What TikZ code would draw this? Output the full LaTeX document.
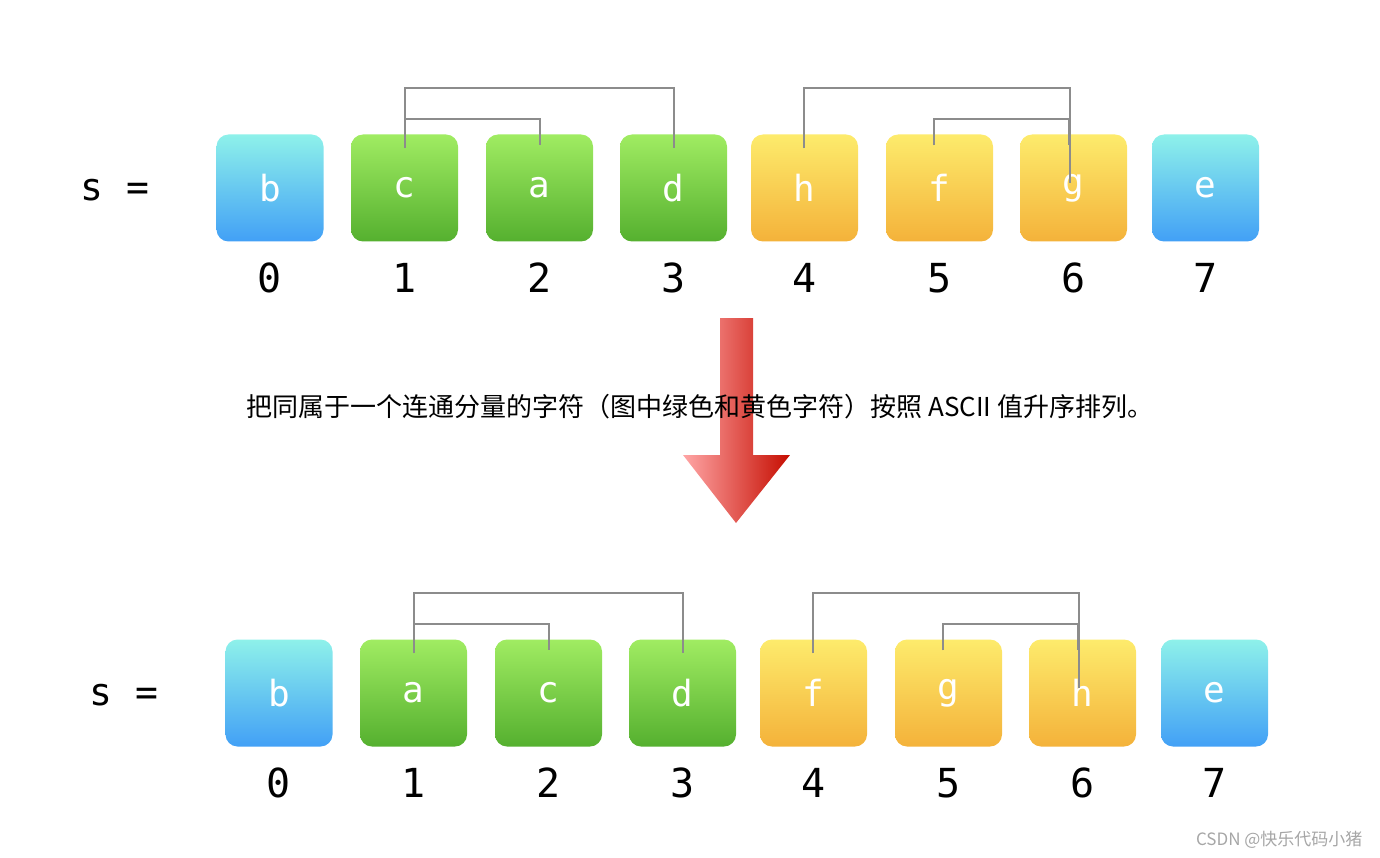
\documentclass[tikz,border=0pt]{standalone}
\usepackage{fontspec}
\usetikzlibrary{positioning}
\newfontfamily\cjk{Noto Sans CJK SC}
\newfontfamily\mono{DejaVu Sans Mono}
\definecolor{bluetop}{HTML}{8EF1EA}
\definecolor{bluebot}{HTML}{42A0F6}
\definecolor{greentop}{HTML}{A0EC62}
\definecolor{greenbot}{HTML}{55B02F}
\definecolor{yeltop}{HTML}{FDEB6C}
\definecolor{yelbot}{HTML}{F4B23A}
\definecolor{brk}{HTML}{8C8C8C}
\begin{document}
\begin{tikzpicture}[x=1pt, y=-1pt]
    \tikzset{
        letterbox/.style={rectangle, rounded corners=12pt, minimum width=107pt, minimum height=107pt, inner sep=0pt, text=white, font=\mono\fontsize{36}{36}\selectfont},
        bluebox/.style={letterbox, top color=bluetop, bottom color=bluebot},
        greenbox/.style={letterbox, top color=greentop, bottom color=greenbot},
        yelbox/.style={letterbox, top color=yeltop, bottom color=yelbot},
        index/.style={font=\mono\fontsize{40}{40}\selectfont},
        bracket/.style={draw=brk, line width=2pt}
    }
    \useasboundingbox (0,0) rectangle (1380,858);

    % Top row
    \node[font=\mono\fontsize{38}{38}\selectfont] (s1) at (115,190) {s =};
    \foreach \ch/\st [count=\i from 0] in {b/bluebox,c/greenbox,a/greenbox,d/greenbox,h/yelbox,f/yelbox,g/yelbox,e/bluebox} {
        \pgfmathsetmacro\xx{{270,404.5,539.5,673.5,804.5,939.5,1073.5,1205.5}[\i]}
        \node[\st] (t\i) at (\xx,188) {\ch};
        \node[index, below=18pt of t\i] (ti\i) {\i};
    }
    \draw[bracket] ([yshift=-14pt]t1.north) |- ++(0,-60) -| ([yshift=-14pt]t3.north);
    \draw[bracket] ([yshift=-11pt]t1.north) |- ++(0,-26) -| ([yshift=-11pt]t2.north);
    \draw[bracket] ([xshift=-1pt,yshift=-14pt]t4.north) |- ++(0,-60) -| ([xshift=-4pt,yshift=-49pt]t6.north);
    \draw[bracket] ([xshift=-6pt,yshift=-11pt]t5.north) |- ++(0,-26) -| ([xshift=-5pt,yshift=-11pt]t6.north);

    % Arrow and caption
    \shade[left color=red!35!white, right color=red!75!black!90!orange, draw=none]
        (720,318) -- (753,318) -- (753,455) -- (790,455) -- (736,523) -- (683,455) -- (720,455) -- cycle;
    \node[font=\cjk\fontsize{26}{26}\selectfont] (cap) at (700,407) {把同属于一个连通分量的字符（图中绿色和黄色字符）按照 ASCII 值升序排列。};

    % Bottom row
    \node[font=\mono\fontsize{38}{38}\selectfont] (s2) at (124,695) {s =};
    \foreach \ch/\st [count=\i from 0] in {b/bluebox,a/greenbox,c/greenbox,d/greenbox,f/yelbox,g/yelbox,h/yelbox,e/bluebox} {
        \pgfmathsetmacro\xx{{279,413.5,548.5,682.5,813.5,948.5,1082.5,1214.5}[\i]}
        \node[\st] (b\i) at (\xx,693) {\ch};
        \node[index, below=18pt of b\i] (bi\i) {\i};
    }
    \draw[bracket] ([yshift=-14pt]b1.north) |- ++(0,-60) -| ([yshift=-14pt]b3.north);
    \draw[bracket] ([yshift=-11pt]b1.north) |- ++(0,-26) -| ([yshift=-11pt]b2.north);
    \draw[bracket] ([xshift=-1pt,yshift=-14pt]b4.north) |- ++(0,-60) -| ([xshift=-4pt,yshift=-49pt]b6.north);
    \draw[bracket] ([xshift=-6pt,yshift=-11pt]b5.north) |- ++(0,-26) -| ([xshift=-5pt,yshift=-11pt]b6.north);

    % Watermark
    \node[text=gray!70, font=\cjk\fontsize{17}{17}\selectfont, anchor=east] (wm) at (1366,840) {CSDN @快乐代码小猪};
\end{tikzpicture}
\end{document}
